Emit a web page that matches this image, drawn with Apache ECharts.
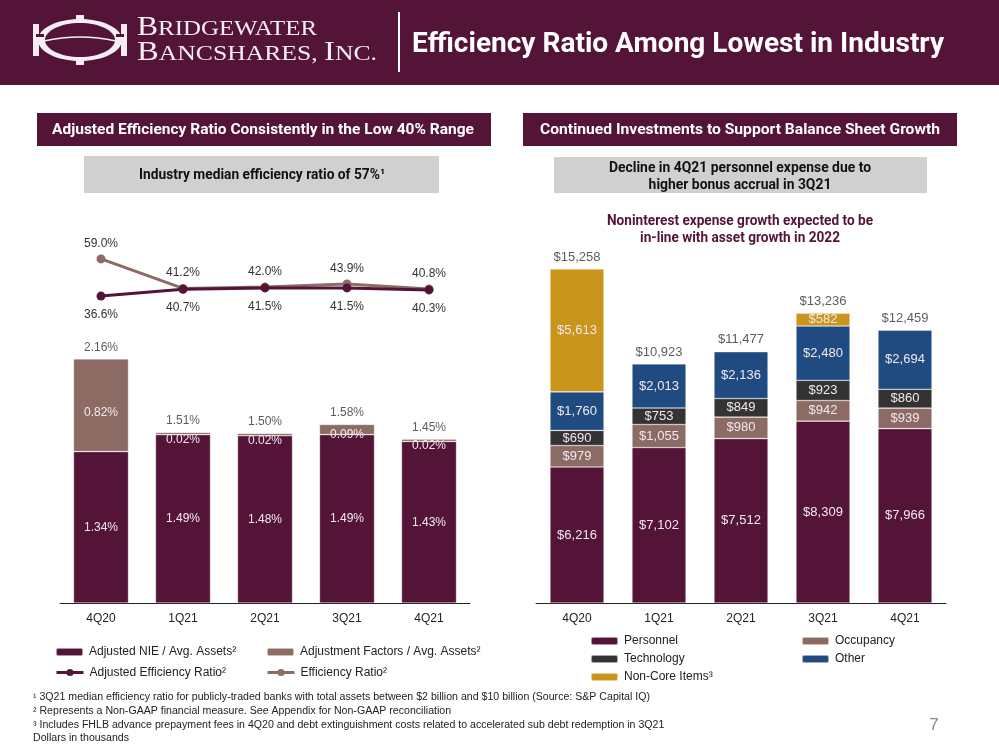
<!DOCTYPE html>
<html><head><meta charset="utf-8">
<script src="https://cdn.jsdelivr.net/npm/echarts@6/dist/echarts.min.js"></script>
<style>html,body{margin:0;padding:0;background:#fff}#c{width:999px;height:750px}</style>
</head><body><div id="c"></div>
<script>
// ---------- data ----------
const categories = ['4Q20', '1Q21', '2Q21', '3Q21', '4Q21'];
const efficiencyRatio = [59.0, 41.2, 42.0, 43.9, 40.8];
const adjEfficiencyRatio = [36.6, 40.7, 41.5, 41.5, 40.3];
const adjNIE = [1.34, 1.49, 1.48, 1.49, 1.43];
const adjFactors = [0.82, 0.02, 0.02, 0.09, 0.02];
const nieTotals = [2.16, 1.51, 1.50, 1.58, 1.45];
const personnel = [6216, 7102, 7512, 8309, 7966];
const occupancy = [979, 1055, 980, 942, 939];
const technology = [690, 753, 849, 923, 860];
const other = [1760, 2013, 2136, 2480, 2694];
const nonCore = [5613, null, null, 582, null];
const expenseTotals = [15258, 10923, 11477, 13236, 12459];

// ---------- style ----------
const MAROON = '#541437', TAUPE = '#8c6b64', DARK = '#333333', BLUE = '#1f4b80', GOLD = '#c9961b';
const GRAYBOX = '#d0d0d0';
const FONT = 'Liberation Sans';
const HFONT = 'Roboto';
const LIGHT = '#f2e8ee';

const mctx = document.createElement('canvas').getContext('2d');
function tw(text, font) { mctx.font = font; return mctx.measureText(text).width; }
function fitText(text, font, targetW, x, y, fill, align) {
  const s = targetW / tw(text, font);
  return { type: 'text', x: x, y: y, scaleX: s, z: 10,
    style: { text: text, font: font, fill: fill, align: align || 'center', verticalAlign: 'middle',
             textAlign: align || 'center', textVerticalAlign: 'middle' } };
}
function tokenLine(tokens, x0, baseline, targetW, family, color) {
  const fonts = tokens.map(t => t[1] + 'px "' + family + '"');
  const total = tokens.reduce((a, t, i) => a + tw(t[0], fonts[i]), 0);
  const s = targetW / total;
  let x = x0; const els = [];
  tokens.forEach((t, i) => {
    els.push({ type: 'text', x: x, y: baseline - 0.337 * t[1], scaleX: s, z: 10,
      style: { text: t[0], font: fonts[i], fill: color, align: 'left', verticalAlign: 'middle',
               textAlign: 'left', textVerticalAlign: 'middle' } });
    x += tw(t[0], fonts[i]) * s;
  });
  return els;
}

const graphics = [];
// header band
graphics.push({ type: 'rect', shape: { x: 0, y: 0, width: 999, height: 85 }, style: { fill: MAROON }, z: 1 });
// logo ring
graphics.push({ type: 'ellipse', shape: { cx: 80, cy: 40, rx: 42, ry: 21 }, style: { fill: '#f4eef2' }, z: 5 });
graphics.push({ type: 'ellipse', shape: { cx: 80, cy: 40, rx: 35, ry: 17 }, style: { fill: MAROON }, z: 6 });
graphics.push({ type: 'rect', shape: { x: 76, y: 15, width: 8, height: 7 }, style: { fill: '#f4eef2' }, z: 7 });
graphics.push({ type: 'rect', shape: { x: 76, y: 58, width: 8, height: 7 }, style: { fill: '#f4eef2' }, z: 7 });
graphics.push({ type: 'rect', shape: { x: 33, y: 24, width: 6, height: 32 }, style: { fill: '#f4eef2' }, z: 7 });
graphics.push({ type: 'rect', shape: { x: 121, y: 24, width: 6, height: 32 }, style: { fill: '#f4eef2' }, z: 7 });
graphics.push({ type: 'rect', shape: { x: 36, y: 34, width: 8, height: 3 }, style: { fill: MAROON }, z: 8 });
graphics.push({ type: 'rect', shape: { x: 116, y: 34, width: 8, height: 3 }, style: { fill: MAROON }, z: 8 });
graphics.push({ type: 'bezierCurve', shape: { x1: 44, y1: 41, x2: 116, y2: 41, cpx1: 80, cpy1: 33 },
  style: { stroke: '#f4eef2', lineWidth: 1.5, fill: null }, z: 8 });
// logo text (small caps)
graphics.push(...tokenLine([['B', 28], ['RIDGEWATER', 22]], 137, 37, 180, 'Liberation Serif', '#f4eef2'));
graphics.push(...tokenLine([['B', 28], ['ANCSHARES, ', 22], ['I', 28], ['NC.', 22]], 137, 62, 240, 'Liberation Serif', '#f4eef2'));
// divider
graphics.push({ type: 'line', shape: { x1: 399, y1: 12, x2: 399, y2: 72 }, style: { stroke: '#ffffff', lineWidth: 2 }, z: 5 });
// title
graphics.push(fitText('Efficiency Ratio Among Lowest in Industry', 'bold 28px "' + HFONT + '"', 532, 412, 45, '#ffffff', 'left'));

// section headers
graphics.push({ type: 'rect', shape: { x: 37, y: 113, width: 454, height: 33 }, style: { fill: MAROON }, z: 1 });
graphics.push(fitText('Adjusted Efficiency Ratio Consistently in the Low 40% Range', 'bold 15px "' + HFONT + '"', 422, 263, 130, '#ffffff'));
graphics.push({ type: 'rect', shape: { x: 523, y: 113, width: 434, height: 33 }, style: { fill: MAROON }, z: 1 });
graphics.push(fitText('Continued Investments to Support Balance Sheet Growth', 'bold 15px "' + HFONT + '"', 400, 740, 130, '#ffffff'));

// gray boxes
graphics.push({ type: 'rect', shape: { x: 84, y: 156, width: 355, height: 37 }, style: { fill: GRAYBOX }, z: 1 });
graphics.push(fitText('Industry median efficiency ratio of 57%¹', 'bold 14px "' + HFONT + '"', 246, 262, 175, '#111111'));
graphics.push({ type: 'rect', shape: { x: 554, y: 157, width: 373, height: 36 }, style: { fill: GRAYBOX }, z: 1 });
(function () {
  const f = 'bold 14px "' + HFONT + '"';
  const l1 = 'Decline in 4Q21 personnel expense due to', l2 = 'higher bonus accrual in 3Q21';
  const s = 262 / tw(l1, f);
  graphics.push(fitText(l1, f, 262, 740, 168, '#111111'));
  graphics.push(fitText(l2, f, tw(l2, f) * s, 740, 185, '#111111'));
  const m1 = 'Noninterest expense growth expected to be', m2 = 'in-line with asset growth in 2022';
  const s2 = 266 / tw(m1, f);
  graphics.push(fitText(m1, f, 266, 740, 221, MAROON));
  graphics.push(fitText(m2, f, tw(m2, f) * s2, 740, 238, MAROON));
})();

// footnotes
(function () {
  const f = '10px "' + FONT + '"';
  const lines = [
    '¹ 3Q21 median efficiency ratio for publicly-traded banks with total assets between $2 billion and $10 billion (Source: S&P Capital IQ)',
    '² Represents a Non-GAAP financial measure. See Appendix for Non-GAAP reconciliation',
    '³ Includes FHLB advance prepayment fees in 4Q20 and debt extinguishment costs related to accelerated sub debt redemption in 3Q21',
    'Dollars in thousands'
  ];
  const ys = [697, 711, 725, 738];
  const s = 617 / tw(lines[0], f);
  lines.forEach((l, i) => graphics.push(fitText(l, f, tw(l, f) * s, 33, ys[i], '#222222', 'left')));
})();
graphics.push({ type: 'text', x: 934, y: 725, z: 10,
  style: { text: '7', font: '17px "' + FONT + '"', fill: '#8a8a8a', align: 'center', verticalAlign: 'middle',
           textAlign: 'center', textVerticalAlign: 'middle' } });

// ---------- chart ----------
const chart = echarts.init(document.getElementById('c'), null, { renderer: 'canvas' });
const catAxis = (gi, show) => ({
  type: 'category', gridIndex: gi, data: categories, show: show,
  axisLine: { show: true, lineStyle: { color: '#222222', width: 1 } },
  axisTick: { show: false },
  axisLabel: { color: '#222222', fontSize: 12, fontFamily: FONT, margin: 10 }
});
const valAxis = (gi, min, max) => ({ type: 'value', gridIndex: gi, min: min, max: max, show: false, splitLine: { show: false } });
const legendBase = (name, left, top) => ({
  data: [name], left: left, top: top, orient: 'horizontal', itemWidth: 27, itemHeight: 8, itemGap: 10, padding: 0,
  textStyle: { fontSize: 12, color: '#222222', fontFamily: FONT, padding: [0, 0, 0, 1] }, selectedMode: false
});
const lineLegend = (name, left, top) => Object.assign(legendBase(name, left, top), {
  itemHeight: 9, lineStyle: { width: 3 }
});
const barLabel = (fmt, color) => ({ show: true, position: 'inside', color: color, fontSize: 12, fontFamily: FONT, formatter: fmt });
const pct2 = p => p.value.toFixed(2) + '%';
const pct1 = p => p.value.toFixed(1) + '%';
const dollar = p => '$' + Number(p.value).toLocaleString('en-US');
const segStyle = c => ({ color: c, borderColor: 'rgba(255,255,255,0.55)', borderWidth: 0.6 });

const option = {
  animation: false,
  backgroundColor: '#ffffff',
  graphic: { elements: graphics },
  grid: [
    { left: 60, width: 410, top: 249, height: 58 },
    { left: 60, width: 410, top: 320.5, height: 282.5 },
    { left: 536, width: 410, top: 252.8, height: 350.2 }
  ],
  xAxis: [catAxis(0, false), catAxis(1, true), catAxis(2, true)],
  yAxis: [valAxis(0, 30, 65), valAxis(1, 0, 2.5), valAxis(2, 0, 16000)],
  legend: [
    legendBase('Adjusted NIE / Avg. Assets²', 55, 646),
    legendBase('Adjustment Factors / Avg. Assets²', 266, 646),
    lineLegend('Adjusted Efficiency Ratio²', 55, 666.5),
    lineLegend('Efficiency Ratio²', 266, 666.5),
    legendBase('Personnel', 590, 635),
    legendBase('Occupancy', 801, 635),
    legendBase('Technology', 590, 653),
    legendBase('Other', 801, 653),
    legendBase('Non-Core Items³', 590, 671)
  ],
  series: [
    { name: 'Efficiency Ratio²', type: 'line', xAxisIndex: 0, yAxisIndex: 0, data: efficiencyRatio,
      symbol: 'circle', symbolSize: 9, lineStyle: { color: TAUPE, width: 3 }, itemStyle: { color: TAUPE }, z: 3,
      label: { show: true, position: 'top', distance: 5, color: '#333333', fontSize: 12, fontFamily: FONT, formatter: pct1 } },
    { name: 'Adjusted Efficiency Ratio²', type: 'line', xAxisIndex: 0, yAxisIndex: 0, data: adjEfficiencyRatio,
      symbol: 'circle', symbolSize: 9, lineStyle: { color: MAROON, width: 3 }, itemStyle: { color: MAROON }, z: 4,
      label: { show: true, position: 'bottom', distance: 8, color: '#333333', fontSize: 12, fontFamily: FONT, formatter: pct1 } },

    { name: 'Adjusted NIE / Avg. Assets²', type: 'bar', xAxisIndex: 1, yAxisIndex: 1, stack: 'L', barWidth: 55,
      data: adjNIE, itemStyle: segStyle(MAROON), label: barLabel(pct2, LIGHT) },
    { name: 'Adjustment Factors / Avg. Assets²', type: 'bar', xAxisIndex: 1, yAxisIndex: 1, stack: 'L', barWidth: 55,
      data: adjFactors.map(v => ({ value: v,
        label: v < 0.3 ? { position: 'insideTop', distance: v < 0.05 ? 1 : 4 } : { position: 'inside', offset: [0, 7] } })),
      itemStyle: segStyle(TAUPE), label: barLabel(pct2, LIGHT) },
    { name: 'nieTotal', type: 'scatter', xAxisIndex: 1, yAxisIndex: 1, data: nieTotals, symbolSize: 1, silent: true,
      itemStyle: { color: 'rgba(0,0,0,0)' },
      label: { show: true, position: 'top', distance: 5, color: '#333333', fontSize: 12, fontFamily: FONT, formatter: pct2 } },

    { name: 'Personnel', type: 'bar', xAxisIndex: 2, yAxisIndex: 2, stack: 'R', barWidth: 54, data: personnel,
      itemStyle: segStyle(MAROON), label: barLabel(dollar, LIGHT) },
    { name: 'Occupancy', type: 'bar', xAxisIndex: 2, yAxisIndex: 2, stack: 'R', barWidth: 54, data: occupancy,
      itemStyle: segStyle(TAUPE), label: barLabel(dollar, LIGHT) },
    { name: 'Technology', type: 'bar', xAxisIndex: 2, yAxisIndex: 2, stack: 'R', barWidth: 54, data: technology,
      itemStyle: segStyle(DARK), label: barLabel(dollar, LIGHT) },
    { name: 'Other', type: 'bar', xAxisIndex: 2, yAxisIndex: 2, stack: 'R', barWidth: 54, data: other,
      itemStyle: segStyle(BLUE), label: barLabel(dollar, LIGHT) },
    { name: 'Non-Core Items³', type: 'bar', xAxisIndex: 2, yAxisIndex: 2, stack: 'R', barWidth: 54, data: nonCore,
      itemStyle: segStyle(GOLD), label: barLabel(dollar, LIGHT) },
    { name: 'expTotal', type: 'scatter', xAxisIndex: 2, yAxisIndex: 2, data: expenseTotals, symbolSize: 1, silent: true,
      itemStyle: { color: 'rgba(0,0,0,0)' },
      label: { show: true, position: 'top', distance: 5, color: '#333333', fontSize: 13, fontFamily: FONT, formatter: dollar } }
  ]
};
// right chart labels are slightly larger
option.series.slice(5, 10).forEach(s => { s.label.fontSize = 13; });
chart.setOption(option);
</script>
</body></html>
